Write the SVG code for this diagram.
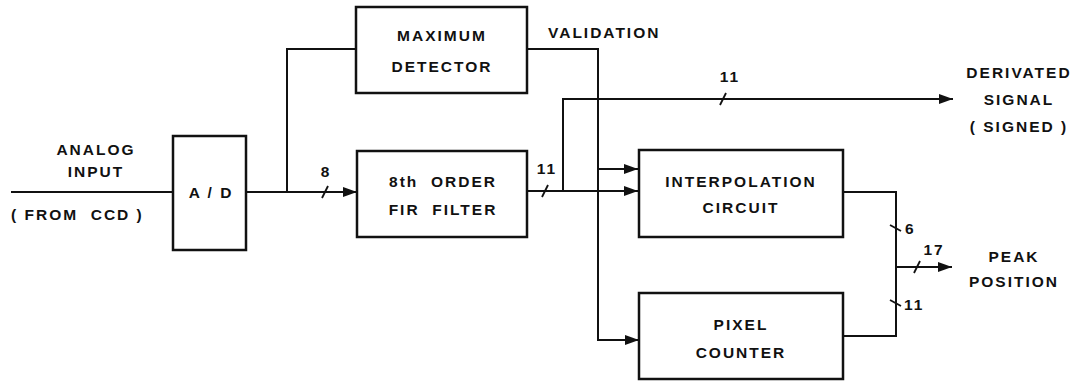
<svg xmlns="http://www.w3.org/2000/svg" width="1072" height="383" viewBox="0 0 1072 383">
<style>
.box{fill:#fff;stroke:#111;stroke-width:2.5}
.ln{fill:none;stroke:#111;stroke-width:2}
.tk{fill:none;stroke:#111;stroke-width:1.8}
text{font-family:"Liberation Sans",Arial,sans-serif;font-weight:bold;font-size:15.5px;fill:#111;letter-spacing:2px;white-space:pre}
.m{text-anchor:middle}
</style>
<defs>
<marker id="ah" viewBox="0 0 14 10" refX="14" refY="5" markerWidth="14" markerHeight="10" markerUnits="userSpaceOnUse" orient="auto">
<path d="M0,0 L14,5 L0,10 Z" fill="#111"/>
</marker>
</defs>
<rect width="1072" height="383" fill="#fff"/>
<g id="connectors">
<path class="ln" d="M11,192 H173"/>
<path class="ln" d="M246,192 H357" marker-end="url(#ah)"/>
<path class="ln" d="M287,192 V49 H356"/>
<path class="ln" d="M527,49 H598 V340 H639" marker-end="url(#ah)"/>
<path class="ln" d="M598,169 H638" marker-end="url(#ah)"/>
<path class="ln" d="M527,191 H638" marker-end="url(#ah)"/>
<path class="ln" d="M563,191 V99 H953" marker-end="url(#ah)"/>
<path class="ln" d="M843,192 H896 V336 H843"/>
<path class="ln" d="M896,267 H952" marker-end="url(#ah)"/>
<path class="tk" d="M322,198 L328,186"/>
<path class="tk" d="M542,197 L548,185"/>
<path class="tk" d="M720,105 L726,93"/>
<path class="tk" d="M914,273 L920,261"/>
<path class="tk" d="M890,225 L901,231"/>
<path class="tk" d="M890,300 L901,306"/>
<text x="326" y="177" class="m">8</text>
<text x="547" y="174" class="m">11</text>
<text x="730" y="82" class="m">11</text>
<text x="934" y="255" class="m">17</text>
<text x="905" y="234">6</text>
<text x="904" y="310">11</text>
</g>
<g id="analog-input">
<text x="96" y="155" class="m">ANALOG</text>
<text x="96" y="177" class="m">INPUT</text>
<text x="11" y="220">( FROM  CCD )</text>
</g>
<g id="ad">
<rect class="box" x="173" y="136" width="73" height="114"/>
<text x="211" y="198" class="m">A / D</text>
</g>
<g id="max-detector">
<rect class="box" x="356" y="7" width="171" height="86"/>
<text x="442" y="41" class="m">MAXIMUM</text>
<text x="442" y="72" class="m">DETECTOR</text>
</g>
<g id="validation">
<text x="548" y="38">VALIDATION</text>
</g>
<g id="fir-filter">
<rect class="box" x="357" y="151" width="170" height="86"/>
<text x="443" y="187" class="m">8th  ORDER</text>
<text x="443" y="215" class="m">FIR  FILTER</text>
</g>
<g id="interpolation">
<rect class="box" x="639" y="150" width="204" height="87"/>
<text x="741" y="187" class="m">INTERPOLATION</text>
<text x="741" y="213" class="m">CIRCUIT</text>
</g>
<g id="pixel-counter">
<rect class="box" x="639" y="293" width="204" height="86"/>
<text x="741" y="330" class="m">PIXEL</text>
<text x="741" y="358" class="m">COUNTER</text>
</g>
<g id="derivated-signal">
<text x="1019" y="78" class="m">DERIVATED</text>
<text x="1019" y="105" class="m">SIGNAL</text>
<text x="1019" y="132" class="m">( SIGNED )</text>
</g>
<g id="peak-position">
<text x="1014" y="262" class="m">PEAK</text>
<text x="1014" y="287" class="m">POSITION</text>
</g>
</svg>
